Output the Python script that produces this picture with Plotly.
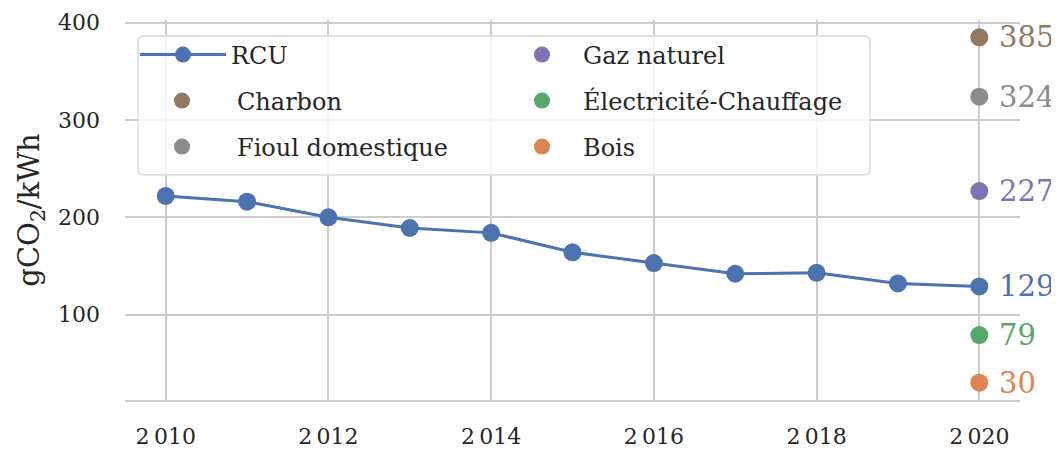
import plotly.graph_objects as go

# données
years = [2010, 2011, 2012, 2013, 2014, 2015, 2016, 2017, 2018, 2019, 2020]
rcu = [222, 216, 200, 189, 184, 164, 153, 142, 143, 132, 129]

ref_year = 2020
ref_names = ["Charbon", "Fioul domestique", "Gaz naturel", "Électricité-Chauffage", "Bois"]
ref_values = [385, 324, 227, 79, 30]

x_ticks = [2010, 2012, 2014, 2016, 2018, 2020]
x_ticktext = ["2\u2009010", "2\u2009012", "2\u2009014", "2\u2009016", "2\u2009018", "2\u2009020"]

blue = "#4C72B0"
ref_colors = ["#937860", "#8C8C8C", "#8172B3", "#55A868", "#DD8452"]

font = "DejaVu Serif"
# la page a une marge de 8px autour du graphique
off = 8
W, H = 1059 - off, 450 - off
left, right, top, bottom = 125, 1020, 20, 400  # zone de tracé, en px de la page
ml, mr, mt, mb = left - off, W + off - right, top - off, H + off - bottom
pw, ph = right - left, bottom - top


def px_x(p):
    return (p - left) / pw


def px_y(p):
    return (bottom - p) / ph


fig = go.Figure()

fig.add_trace(go.Scatter(
    x=years, y=rcu, name="RCU", mode="lines+markers",
    line=dict(color=blue, width=3), marker=dict(size=18, color=blue),
    legend="legend", cliponaxis=False,
))

legend_names = ["legend2", "legend3", "legend4", "legend5", "legend6"]
for name, val, col, lg in zip(ref_names, ref_values, ref_colors, legend_names):
    fig.add_trace(go.Scatter(
        x=[ref_year], y=[val], name=name, mode="markers",
        marker=dict(size=18, color=col), legend=lg, cliponaxis=False,
    ))

# étiquettes de valeur à droite
for val, col in zip([129] + ref_values, [blue] + ref_colors):
    fig.add_annotation(
        x=ref_year, y=val, text=str(val), showarrow=False,
        xanchor="left", yanchor="middle", xshift=18,
        font=dict(family=font, size=29, color=col),
    )

# une légende par entrée : (gauche px, centre px, largeur du symbole)
legend_pos = [(135, 55, 86), (127, 101, 100), (127, 147, 100),
              (501, 55, 72), (501, 101, 72), (501, 147, 72)]
legend_font = dict(family=font, size=24, color="#262626")
leg_layouts = {}
for lg, (lx, ly, iw) in zip(["legend"] + legend_names, legend_pos):
    leg_layouts[lg] = dict(
        x=px_x(lx), y=px_y(ly), xanchor="left", yanchor="middle",
        bgcolor="rgba(0,0,0,0)", borderwidth=0, font=legend_font,
        itemwidth=iw,
    )

# cadre de la légende (coins arrondis)
x0, x1, y0, y1, rr = 138, 870, 36, 175, 6
fx, fy = px_x, px_y
path = (
    f"M {fx(x0 + rr)},{fy(y0)} L {fx(x1 - rr)},{fy(y0)} "
    f"Q {fx(x1)},{fy(y0)} {fx(x1)},{fy(y0 + rr)} L {fx(x1)},{fy(y1 - rr)} "
    f"Q {fx(x1)},{fy(y1)} {fx(x1 - rr)},{fy(y1)} L {fx(x0 + rr)},{fy(y1)} "
    f"Q {fx(x0)},{fy(y1)} {fx(x0)},{fy(y1 - rr)} L {fx(x0)},{fy(y0 + rr)} "
    f"Q {fx(x0)},{fy(y0)} {fx(x0 + rr)},{fy(y0)} Z"
)
fig.add_shape(type="path", path=path, xref="paper", yref="paper",
              fillcolor="rgba(255,255,255,0.8)", line=dict(color="#d9d9d9", width=1.5),
              layer="above")

fig.update_layout(
    width=W, height=H,
    margin=dict(l=ml, r=mr, t=mt, b=mb, autoexpand=False),
    plot_bgcolor="white", paper_bgcolor="white",
    font=dict(family=font, size=22, color="#262626"),
    showlegend=True,
    **leg_layouts,
)

fig.update_xaxes(
    range=[2009.5, 2020.5], tickvals=x_ticks, ticktext=x_ticktext,
    showgrid=True, gridcolor="#cccccc", gridwidth=1.5,
    showline=True, linecolor="#cccccc", linewidth=2,
    zeroline=False, ticks="", ticklabelstandoff=16,
)
fig.update_yaxes(
    range=[12.25, 402.75], tickvals=[100, 200, 300, 400],
    showgrid=True, gridcolor="#cccccc", gridwidth=1.5,
    showline=False, zeroline=False, ticks="", ticklabelstandoff=24,
    title=dict(text="gCO<sub>2</sub>/kWh", font=dict(family=font, size=29), standoff=9),
)

fig.write_html("out.html")
